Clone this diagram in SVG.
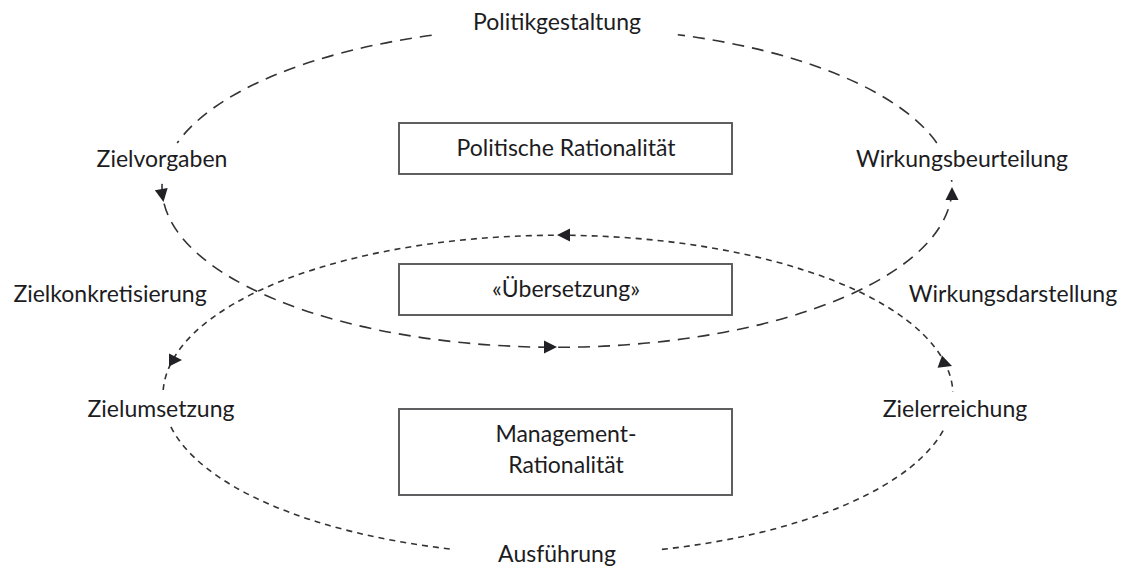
<svg xmlns="http://www.w3.org/2000/svg" width="1125" height="572" viewBox="0 0 1125 572">
  <style>
    text { font-family: Lato, "Open Sans", "Liberation Sans", sans-serif; font-size: 23px; fill: #1c1c22; text-anchor: middle; }
    .box { fill: #ffffff; stroke: #58585a; stroke-width: 1.9; }
    .long { fill: none; stroke: #333333; stroke-width: 1.6; stroke-dasharray: 12 8; }
    .short { fill: none; stroke: #333333; stroke-width: 1.6; stroke-dasharray: 6 5; }
    .head { fill: #222226; }
  </style>
  <defs>
    <polygon id="ah" class="head" points="0,0 -13,-6.5 -13,6.5"/>
  </defs>
  <rect width="1125" height="572" fill="#ffffff"/>

  <g id="connectors">
    <!-- upper cycle (long dashes) -->
    <path class="long" d="M 431.7 35.3 A 395 160 0 0 0 177.2 143.0"/>
    <path class="long" d="M 162.1 183.9 A 395 160 0 1 0 951.6 180.0"/>
    <path class="long" d="M 936.8 143.0 A 395 160 0 0 0 677.8 34.7"/>
    <!-- lower cycle (short dashes) -->
    <path class="short" d="M 163.2 390.0 A 395 160 0 0 1 952.9 391.9"/>
    <path class="short" d="M 170.9 426.9 A 395 160 0 0 0 453.1 549.3"/>
    <path class="short" d="M 661.9 549.4 A 395 160 0 0 0 945.1 426.9"/>
    <!-- arrowheads -->
    <use href="#ah" transform="translate(163.5,202) rotate(80)"/>
    <use href="#ah" transform="translate(557,347) rotate(0)"/>
    <use href="#ah" transform="translate(952,187) rotate(-90)"/>
    <use href="#ah" transform="translate(557,235) rotate(180)"/>
    <use href="#ah" transform="translate(182,360) rotate(0)"/>
    <use href="#ah" transform="translate(952,366) rotate(20)"/>
  </g>

  <g id="node-politische">
    <rect class="box" x="399" y="123" width="333" height="51"/>
    <text x="566" y="156">Politische Rationalität</text>
  </g>
  <g id="node-uebersetzung">
    <rect class="box" x="399" y="264" width="333" height="51"/>
    <text x="566" y="297">«Übersetzung»</text>
  </g>
  <g id="node-management">
    <rect class="box" x="399" y="409" width="333" height="86"/>
    <text x="566" y="442">Management-</text>
    <text x="566" y="473">Rationalität</text>
  </g>

  <g id="label-politikgestaltung"><text x="557" y="30">Politikgestaltung</text></g>
  <g id="label-zielvorgaben"><text x="162" y="167">Zielvorgaben</text></g>
  <g id="label-wirkungsbeurteilung"><text x="962" y="167">Wirkungsbeurteilung</text></g>
  <g id="label-zielkonkretisierung"><text x="110" y="302">Zielkonkretisierung</text></g>
  <g id="label-wirkungsdarstellung"><text x="1013" y="302">Wirkungsdarstellung</text></g>
  <g id="label-zielumsetzung"><text x="161" y="417">Zielumsetzung</text></g>
  <g id="label-zielerreichung"><text x="955" y="417">Zielerreichung</text></g>
  <g id="label-ausfuehrung"><text x="557" y="562">Ausführung</text></g>
</svg>
